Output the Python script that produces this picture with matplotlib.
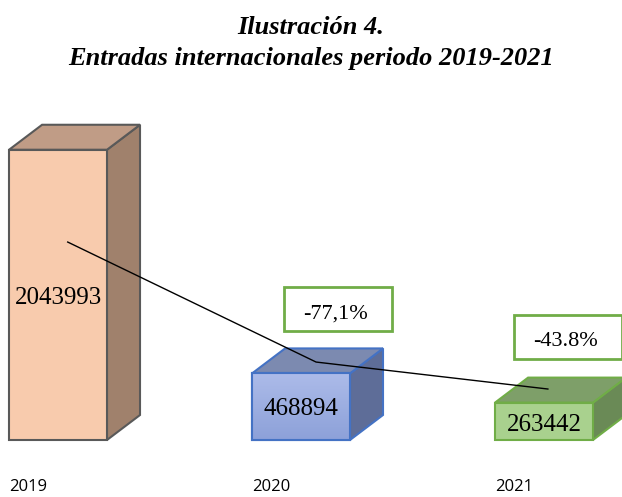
import numpy as np
import matplotlib.pyplot as plt
from matplotlib.patches import Polygon, Rectangle
from matplotlib.colors import LinearSegmentedColormap

years = ['2019', '2020', '2021']
entradas = [2043993, 468894, 263442]
variacion = ['', '-77,1%', '-43.8%']
# trend line drawn over the columns
linea = [1394000, 549000, 359000]

front_col = ['#F8CBAD', '#9FB1E2', '#A9D18E']
top_col = ['#C09C86', '#7C8AB0', '#7E9F69']
side_col = ['#A0816C', '#5E6D98', '#6A8A56']
edge_col = ['#595959', '#4472C4', '#70AD47']

fig = plt.figure(figsize=(6.22, 4.97), dpi=100)
ax = fig.add_axes([0, 0, 1, 1])
ax.set_xlim(-0.2387, 2.321)
ax.set_ylim(-401400, 3098600)
ax.axis('off')

x = np.arange(len(years))
w = 0.403
dx = 0.136
dy = 176000
label_frac = [0.469, 0.375, 0.24]

for i, v in enumerate(entradas):
    l, r = x[i] - w / 2, x[i] + w / 2
    front = Polygon([(l, 0), (r, 0), (r, v), (l, v)], closed=True,
                    fc=front_col[i], ec=edge_col[i], lw=1.5, zorder=3)
    top = Polygon([(l, v), (r, v), (r + dx, v + dy), (l + dx, v + dy)], closed=True,
                  fc=top_col[i], ec=edge_col[i], lw=1.5, zorder=2)
    side = Polygon([(r, 0), (r + dx, dy), (r + dx, v + dy), (r, v)], closed=True,
                   fc=side_col[i], ec=edge_col[i], lw=1.5, zorder=2)
    for p in (side, top, front):
        ax.add_patch(p)
    if i == 1:
        # light gradient on the blue front face
        cmap = LinearSegmentedColormap.from_list('g', ['#8DA1D9', '#ACBBE9'])
        im = ax.imshow(np.linspace(0, 1, 50).reshape(-1, 1), cmap=cmap, origin='lower',
                       extent=(l, r, 0, v), aspect='auto', zorder=3.5)
        im.set_clip_path(front)
        ax.add_patch(Polygon([(l, 0), (r, 0), (r, v), (l, v)], closed=True,
                             fill=False, ec=edge_col[i], lw=1.5, zorder=3.6))
    ax.text(x[i], v * label_frac[i], str(v), ha='center', va='baseline', fontsize=18,
            family='Liberation Serif', zorder=5)
    ax.text(l, -330000, years[i], ha='left', va='center', fontsize=12,
            family='Open Sans', zorder=5)

ax.set_xlim(-0.2387, 2.321)
ax.set_ylim(-401400, 3098600)

ax.plot(x + np.array([0.04, 0.062, 0.016]), linea, color='black', lw=1, zorder=6)

# percentage boxes
box_xy = [None, (1.154, 920000), (2.099, 725000)]
bw, bh = 0.445, 310000
for i in (1, 2):
    cx, cy = box_xy[i]
    ax.add_patch(Rectangle((cx - bw / 2, cy - bh / 2), bw, bh, fc='white',
                           ec='#70AD47', lw=2, zorder=6, clip_on=False))
    ax.text(cx - 0.01, cy - 62000, variacion[i], ha='center', va='baseline', fontsize=16,
            family='Liberation Serif', zorder=7)

fig.text(0.5, 1 - 34 / 497, 'Ilustración 4.', ha='center', va='baseline', fontsize=19,
         family='Liberation Serif', fontweight='bold', style='italic')
fig.text(0.5, 1 - 65 / 497, 'Entradas internacionales periodo 2019-2021', ha='center',
         va='baseline', fontsize=19, family='Liberation Serif', fontweight='bold',
         style='italic')

fig.savefig('out.png', dpi=100)
